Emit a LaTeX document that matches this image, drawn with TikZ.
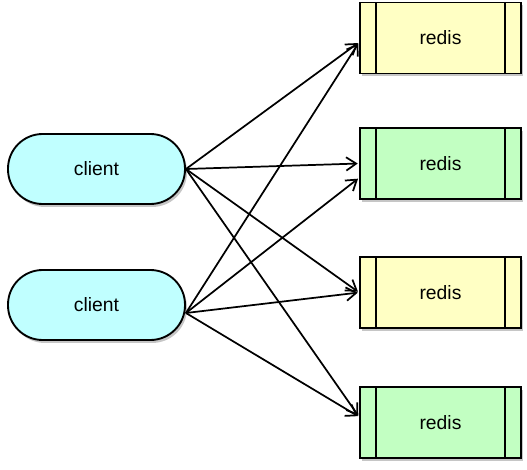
\documentclass[tikz,border=0pt]{standalone}
\usepackage{fontspec}
\setmainfont{Liberation Sans}
\usetikzlibrary{arrows.meta,shadows}

\definecolor{clientcyan}{HTML}{C0FFFF}
\definecolor{redisyellow}{HTML}{FFFFC4}
\definecolor{redisgreen}{HTML}{C2FFC2}

\begin{document}
\begin{tikzpicture}[x=0.75pt,y=-0.75pt,
  client/.style={draw,fill=clientcyan,line width=1.4pt,rounded corners=26pt,
    minimum width=132.75pt,minimum height=52.5pt,font=\fontsize{14.5}{16}\selectfont,
    drop shadow={shadow xshift=1.5pt,shadow yshift=-2.2pt,opacity=0.45}},
  redis/.style={draw,line width=1.4pt,minimum width=120.75pt,minimum height=53.25pt,
    font=\fontsize{14.5}{16}\selectfont,
    drop shadow={shadow xshift=1.5pt,shadow yshift=-2.2pt,opacity=0.45},
    path picture={
      \draw[line width=1pt] ([xshift=12pt]path picture bounding box.north west) -- ([xshift=12pt]path picture bounding box.south west);
      \draw[line width=1pt] ([xshift=-12pt]path picture bounding box.north east) -- ([xshift=-12pt]path picture bounding box.south east);
    }},
  link/.style={-{Straight Barb[length=7.5pt,width=10pt,line width=1.3pt]},line width=1.3pt,shorten >=1pt}]

\useasboundingbox (0,0) rectangle (527,470);

%Clients
\node[client] (c1) at (96.5,169){client};
\node[client] (c2) at (96.5,305){client};

%Redis
\node[redis,fill=redisyellow] (r1) at (440.5,38){redis};
\node[redis,fill=redisgreen] (r2) at (440.5,163.5){redis};
\node[redis,fill=redisyellow] (r3) at (440.5,292.5){redis};
\node[redis,fill=redisgreen] (r4) at (440.5,422.5){redis};

%Client 1
\draw[link] (c1.east) -- (r1.183);
\draw[link] (c1.east) -- (r2.west);
\draw[link] (c1.east) -- (r3.west);
\draw[link] (c1.east) -- (r4.176);

%Client 2
\draw[link] ([yshift=-6pt]c2.east) -- (r1.183);
\draw[link] ([yshift=-6pt]c2.east) -- (r2.190);
\draw[link] ([yshift=-6pt]c2.east) -- (r3.west);
\draw[link] ([yshift=-6pt]c2.east) -- (r4.176);

\end{tikzpicture}
\end{document}
